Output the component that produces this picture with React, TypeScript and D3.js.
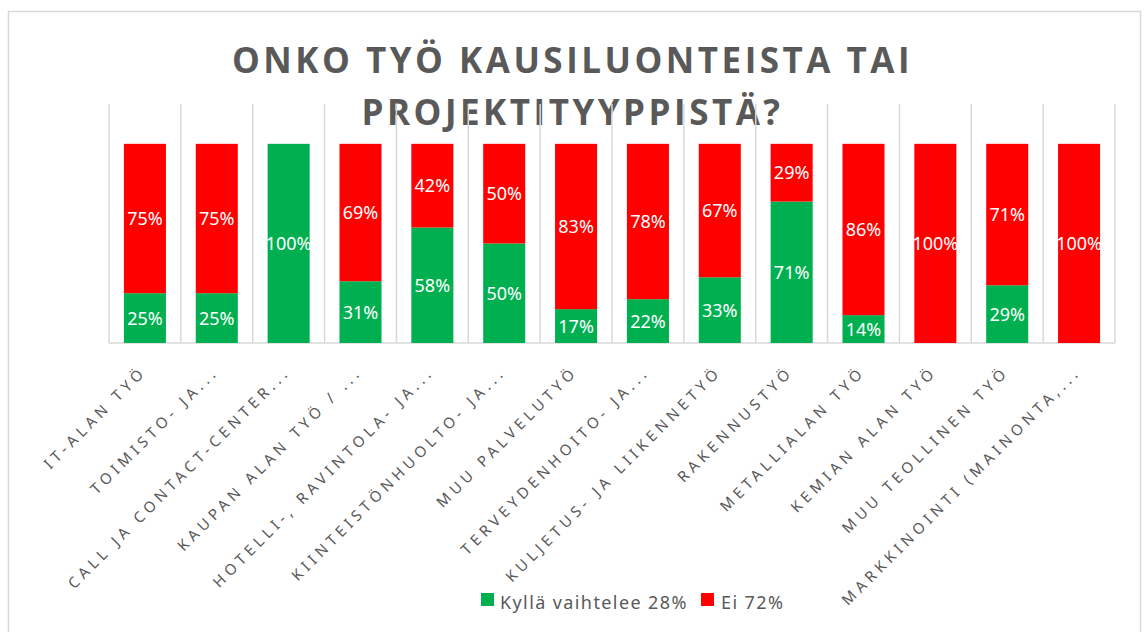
import React from 'react'
import * as d3 from 'd3'

// categories (as shown, truncated like the original axis)
const categories = [
  'IT-ALAN TYÖ',
  'TOIMISTO- JA...',
  'CALL JA CONTACT-CENTER...',
  'KAUPAN ALAN TYÖ / ...',
  'HOTELLI-, RAVINTOLA- JA...',
  'KIINTEISTÖNHUOLTO- JA...',
  'MUU PALVELUTYÖ',
  'TERVEYDENHOITO- JA...',
  'KULJETUS- JA LIIKENNETYÖ',
  'RAKENNUSTYÖ',
  'METALLIALAN TYÖ',
  'KEMIAN ALAN TYÖ',
  'MUU TEOLLINEN TYÖ',
  'MARKKINOINTI (MAINONTA,...',
]
const kylla = [25, 25, 100, 31, 58, 50, 17, 22, 33, 71, 14, 0, 29, 0]
const ei = [75, 75, 0, 69, 42, 50, 83, 78, 67, 29, 86, 100, 71, 100]
const seriesNames = ['Kyllä vaihtelee 28%', 'Ei 72%']
const seriesColors = ['#00B050', '#FF0000']
const titleLines = ['ONKO TYÖ KAUSILUONTEISTA TAI', 'PROJEKTITYYPPISTÄ?']

const W = 1147
const H = 632
const textGray = '#595959'
const gridGray = '#d9d9d9'

export default function App() {
  const plot = { left: 109, right: 1115, top: 104, bottom: 343 }

  const x = d3.scaleBand<string>()
    .domain(categories)
    .range([plot.left, plot.right])
    .paddingInner(0.415)
    .paddingOuter(0.2075)
  const y = d3.scaleLinear().domain([0, 120]).range([plot.bottom, plot.top])

  const rows = categories.map((c, i) => ({ cat: c, kylla: kylla[i], ei: ei[i] }))
  const stacked = d3.stack<any>().keys(['kylla', 'ei'])(rows)

  const step = x.step()
  const gridXs = d3.range(categories.length + 1).map(i => plot.left + i * step)

  return (
    <svg width={W} height={H} style={{ position: 'absolute', left: 0, top: 0, background: '#fff' }}>
      <rect x={8.5} y={11.5} width={1132} height={640} fill="#fff" stroke={gridGray} strokeWidth={1.5} />

      {titleLines.map((t, i) => (
        <text key={i} x={W / 2 - 1} y={73 + i * 52} textAnchor="middle" fill={textGray}
          fontFamily="'Open Sans', 'Noto Sans', sans-serif" fontWeight="bold" fontSize={35}
          letterSpacing={3.5}>{t}</text>
      ))}

      {gridXs.map((gx, i) => (
        <line key={i} x1={gx} x2={gx} y1={plot.top} y2={plot.bottom} stroke={gridGray} strokeWidth={1.5} />
      ))}
      <line x1={plot.left} x2={plot.right} y1={plot.bottom} y2={plot.bottom} stroke={gridGray} strokeWidth={1.5} />

      {stacked.map((s, si) => (
        <g key={s.key} fill={seriesColors[si]}>
          {s.map((d, i) => {
            const v = d[1] - d[0]
            if (v <= 0) return null
            return (
              <rect key={i} x={x(categories[i])} y={y(d[1])} width={x.bandwidth()}
                height={y(d[0]) - y(d[1])} />
            )
          })}
        </g>
      ))}

      {stacked.map((s, si) => (
        <g key={'l' + s.key} fill="#fff" fontFamily="'Noto Sans', sans-serif" fontSize={18} textAnchor="middle">
          {s.map((d, i) => {
            const v = d[1] - d[0]
            if (v <= 0) return null
            return (
              <text key={i} x={(x(categories[i]) as number) + x.bandwidth() / 2}
                y={(y(d[0]) + y(d[1])) / 2} dy="0.36em">{v}%</text>
            )
          })}
        </g>
      ))}

      {categories.map((c, i) => {
        const cx = (x(c) as number) + x.bandwidth() / 2
        return (
          <text key={c} transform={`translate(${cx - 5},${plot.bottom + 22}) rotate(-45)`}
            textAnchor="end" dy="0.72em" fill={textGray}
            fontFamily="'Noto Sans', sans-serif" fontSize={15} letterSpacing={4.5}>{c}</text>
        )
      })}

      <g fontFamily="'Noto Sans', sans-serif" fontSize={18} fill={textGray} letterSpacing={1.4}>
        <rect x={481} y={593} width={13} height={13} fill={seriesColors[0]} />
        <text x={500} y={609}>{seriesNames[0]}</text>
        <rect x={701} y={593} width={13} height={13} fill={seriesColors[1]} />
        <text x={721} y={609}>{seriesNames[1]}</text>
      </g>
    </svg>
  )
}
